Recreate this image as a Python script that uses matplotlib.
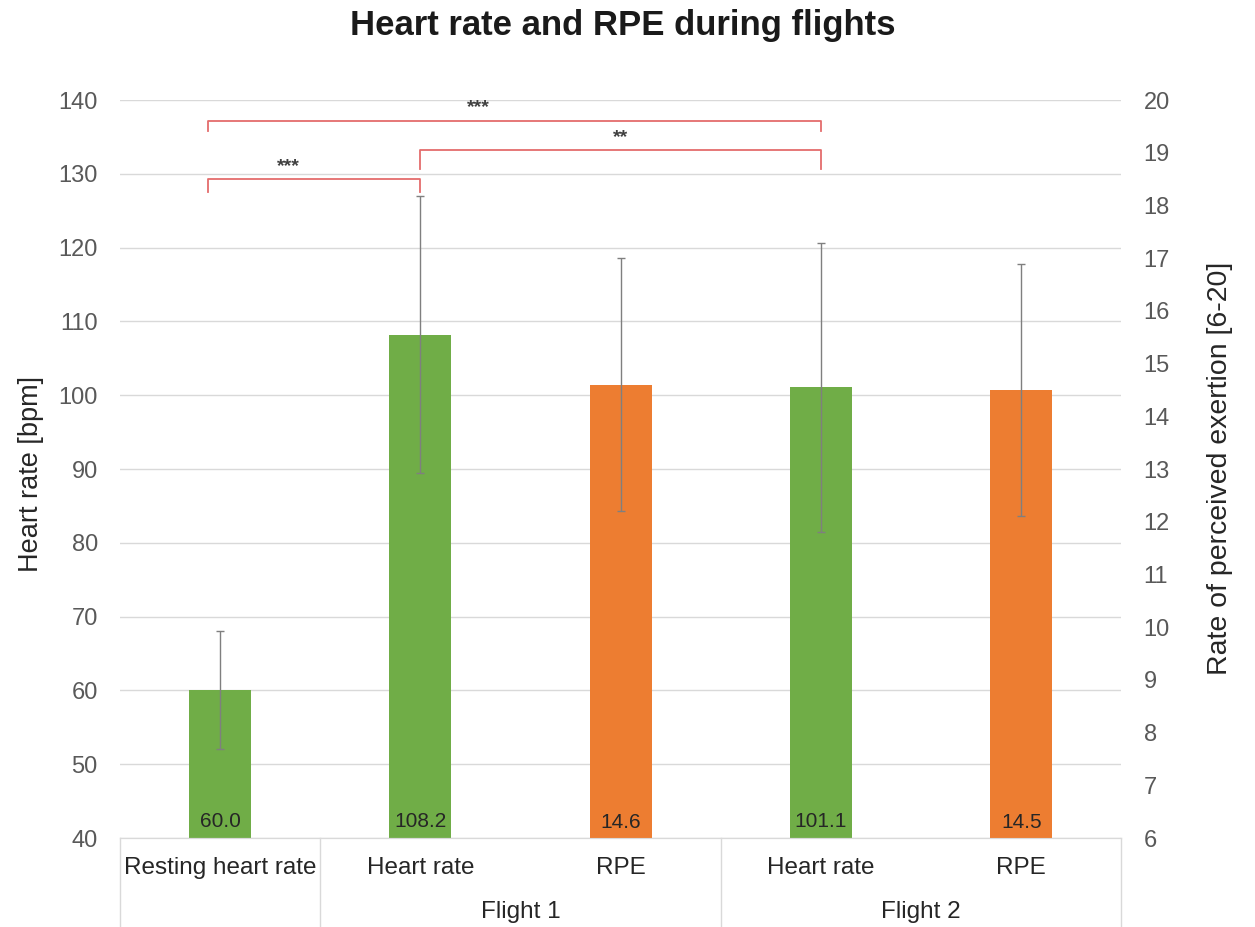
import matplotlib.pyplot as plt
from matplotlib.transforms import blended_transform_factory

plt.rcParams['font.family'] = ['Liberation Sans', 'DejaVu Sans']

# categories along the x axis, grouped by flight
categories = ["Resting heart rate", "Heart rate", "RPE", "Heart rate", "RPE"]
groups = ["", "Flight 1", "Flight 2"]
group_spans = [(0, 0), (1, 2), (3, 4)]

# heart rate (left axis) and RPE (right axis), mean and SD
hr_pos = [0, 1, 3]
hr_mean = [60.0, 108.2, 101.1]
hr_sd = [8.0, 18.8, 19.6]
rpe_pos = [2, 4]
rpe_mean = [14.6, 14.5]
rpe_sd = [2.4, 2.4]

# significance brackets between bars: (from, to, stars)
brackets = [(0, 1, "***"), (0, 3, "***"), (1, 3, "**")]

green = "#70AD47"
orange = "#ED7D31"
grey = "#595959"
dark = "#262626"

fig = plt.figure(figsize=(12.55, 9.27), dpi=100)
ax = fig.add_axes([0.0956, 0.096, 0.798, 0.796])
ax2 = ax.twinx()

err_style = dict(elinewidth=1, capsize=3, capthick=1)
ax.bar(hr_pos, [m - 40 for m in hr_mean], bottom=40, width=0.31, color=green,
       yerr=hr_sd, ecolor="#7f7f7f", error_kw=err_style, zorder=2)
ax2.bar(rpe_pos, [m - 6 for m in rpe_mean], bottom=6, width=0.31, color=orange,
        yerr=rpe_sd, ecolor="#7f7f7f", error_kw=err_style, zorder=2)

for x, v in zip(hr_pos, hr_mean):
    ax.text(x, 42.2, f"{v:.1f}", ha="center", va="center", fontsize=15, color=dark)
for x, v in zip(rpe_pos, rpe_mean):
    ax2.text(x, 6.3, f"{v:.1f}", ha="center", va="center", fontsize=15, color=dark)

ax.set_xlim(-0.5, 4.5)
ax.set_ylim(40, 140)
ax.set_yticks(range(40, 141, 10))
ax2.set_ylim(6, 20)
ax2.set_yticks(range(6, 21))
ax.set_xticks([])

ax.yaxis.grid(True, color="#d9d9d9", linewidth=1)
ax.set_axisbelow(True)
for a in (ax, ax2):
    for s in ("top", "left", "right"):
        a.spines[s].set_visible(False)
    a.spines["bottom"].set_color("#d9d9d9")
ax.tick_params(axis="y", length=0, labelsize=17, labelcolor=grey, pad=16)
ax2.tick_params(axis="y", length=0, labelsize=17, labelcolor=grey, pad=16)

fig.text(0.0247, 0.489, "Heart rate [bpm]", rotation=90, ha="center", va="center",
         fontsize=19.5, color=dark)
fig.text(0.972, 0.495, "Rate of perceived exertion [6-20]", rotation=90,
         ha="center", va="center", fontsize=20.5, color=dark)

# two-level category axis below the plot
trans = blended_transform_factory(ax.transData, ax.transAxes)
for i, name in enumerate(categories):
    ax.text(i, -0.041, name, transform=trans, ha="center", va="center",
            fontsize=17.5, color=dark)
for name, (a, b) in zip(groups, group_spans):
    ax.text((a + b) / 2, -0.100, name, transform=trans, ha="center", va="center",
            fontsize=17.5, color=dark)
for edge in (-0.5, 0.5, 2.5, 4.5):
    ax.plot([edge, edge], [0, -0.121], transform=trans, color="#d9d9d9",
            linewidth=1, clip_on=False)

# significance brackets above the bars
levels = [129.3, 137.2, 133.2]
drops = [1.8, 1.4, 2.6]
star_shift = [-0.13, -0.18, 0.0]
for (a, b, stars), level, drop, dx in zip(brackets, levels, drops, star_shift):
    left = a - 0.06 if a == 0 else a
    ax.plot([left, left, b, b], [level - drop, level, level, level - drop],
            color="#E46C6C", linewidth=1.3, clip_on=False, zorder=3)
    ax.text((left + b) / 2 + dx, level + 0.6, stars, ha="center", va="bottom",
            fontsize=14, fontweight="bold", color="#404040")

fig.text(0.496, 0.972, "Heart rate and RPE during flights", ha="center", va="center",
         fontsize=25, fontweight="bold", color="#1a1a1a")

fig.savefig("out.png", dpi=100)
